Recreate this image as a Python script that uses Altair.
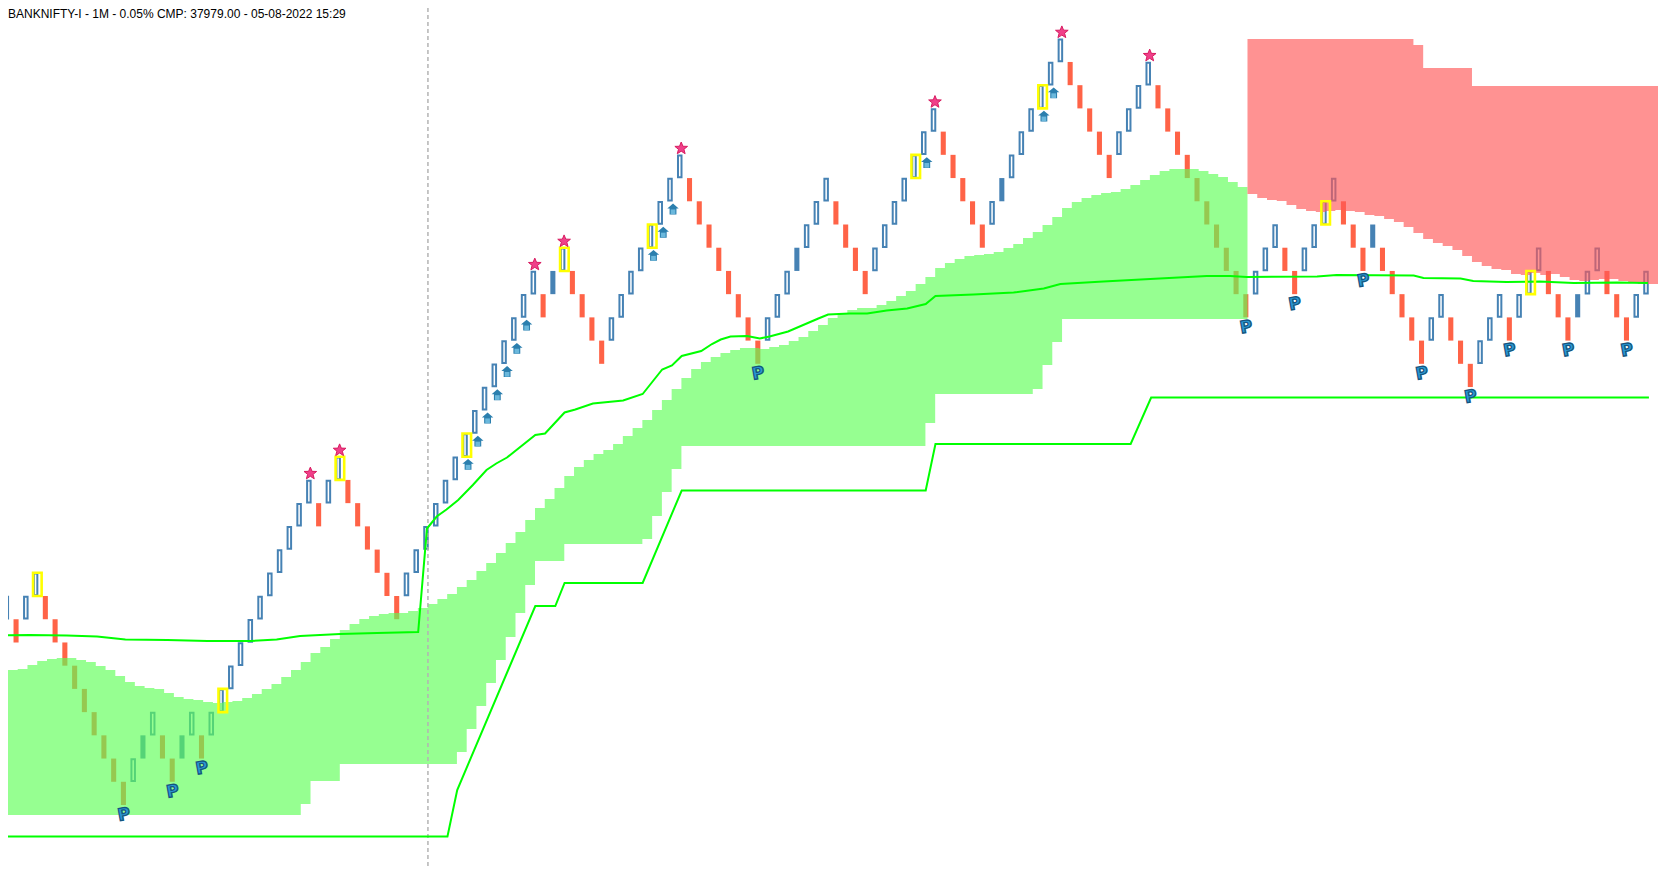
import altair as alt
import pandas as pd

chart_title = "BANKNIFTY-I - 1M - 0.05% CMP: 37979.00 - 05-08-2022 15:29"

# Renko bricks: level of each brick (number of boxes above the lowest brick)
levels = [8,7,8,9,8,7,6,5,4,3,2,1,0,1,2,3,2,1,2,3,2,3,4,5,6,7,8,9,10,11,12,13,12,13,14,13,12,11,10,9,8,9,10,11,12,13,14,15,16,17,18,19,20,21,22,21,22,23,22,21,20,19,20,21,22,23,24,25,26,27,26,25,24,23,22,21,20,19,20,21,22,23,24,25,26,25,24,23,22,23,24,25,26,27,28,29,28,27,26,25,24,25,26,27,28,29,30,31,32,31,30,29,28,27,28,29,30,31,30,29,28,27,26,25,24,23,22,21,22,23,24,23,22,23,24,25,26,25,24,23,24,23,22,21,20,19,20,21,20,19,18,19,20,21,20,21,22,23,22,21,20,21,22,23,22,21,20,21,22]
lowest_price = 36911
box_size = 46.44
solid_up = [14,18,56,81,102,140,161]
yellow_bars = [3,22,34,47,57,66,93,106,135,156]
p_bars = [12,17,20,77,127,132,139,145,150,154,160,166]
star_bars = [31,34,54,57,69,95,108,117]
arrow_bars = [47,48,49,50,51,52,53,66,67,68,94,106,107]

green_top = [37181,37183,37191,37199,37203,37205,37205,37201,37197,37189,37181,37169,37157,37149,37145,37143,37135,37127,37123,37121,37117,37115,37117,37119,37125,37133,37143,37153,37167,37181,37197,37215,37227,37243,37261,37273,37283,37289,37293,37295,37295,37299,37305,37313,37323,37333,37347,37361,37379,37395,37415,37435,37457,37481,37505,37523,37545,37569,37587,37601,37613,37621,37633,37649,37665,37681,37701,37721,37743,37765,37783,37797,37807,37815,37821,37825,37825,37823,37827,37831,37839,37847,37859,37871,37885,37893,37901,37905,37905,37911,37919,37929,37939,37953,37967,37985,37995,38003,38009,38011,38013,38017,38025,38033,38045,38057,38071,38087,38105,38117,38125,38131,38135,38137,38143,38151,38161,38171,38179,38183,38183,38183,38179,38173,38167,38157,38147]
green_bottom = [36891]*30 + [36913] + [36959]*3 + [36993]*12 + [37017,37063,37109,37155,37201,37247,37295,37351] + [37399]*3 + [37433]*8 + [37443,37489,37537,37583] + [37629]*25 + [37675] + [37733]*10 + [37743,37791,37837] + [37883]*19
red_bottom = [38133,38125,38121,38119,38111,38103,38099,38097,38099,38101,38099,38097,38091,38089,38083,38077,38067,38055,38043,38035,38029,38021,38009,37997,37989,37983,37981,37973,37971,37975,37971,37973,37967,37961,37959,37961,37963,37963,37959,37957,37953,37953]
red_top = [38443]*17 + [38431] + [38385]*5 + [38349]*19

avg_x = [-1,2.4,6.2,9.3,12.2,16.5,20.6,25,27.7,30.1,34.2,38,42.2,43.1,44.1,45.1,46.3,47.8,49.2,50.2,51.3,54.2,55.2,57.2,58.3,60.1,63.2,65.2,67.2,68.2,69.2,71.2,72.3,73.2,74.2,75.9,77.2,78.2,80.1,83.2,84.2,86.4,88.2,90.2,92.3,94.2,95.2,99.1,103.2,106.3,108,112.4,117.2,123,125.4,127.1,134.3,136.3,144.2,145.2,149,150.3,153.7,157.1,160.6,165,168.2]
avg_price = [37250,37251,37250,37248,37242,37241,37239,37239,37242,37249,37253,37255,37257,37464,37488,37502,37521,37551,37581,37594,37606,37651,37654,37696,37702,37714,37720,37733,37782,37790,37809,37819,37833,37842,37848,37849,37844,37848,37858,37884,37892,37894,37894,37900,37904,37913,37929,37932,37936,37944,37953,37958,37963,37969,37969,37967,37968,37971,37970,37965,37964,37959,37957,37958,37955,37956,37955]
stop_x = [-1,45.2,46.2,54.2,56.25,57.2,65.2,69.2,94.2,95.2,115.2,117.3,168.3]
stop_price = [36848,36848,36941,37309,37309,37355,37355,37540,37540,37633,37633,37726,37726]
divider_bar = [43.2]

BLUE, RED = "#4682b4", "#ff6347"
xs = alt.Scale(domain=[0.174, 169.23], nice=False, zero=False)
ys = alt.Scale(domain=[36783, 38505], nice=False, zero=False)
X = lambda f: alt.X(f, type="quantitative", scale=xs, axis=None)
Y = lambda f: alt.Y(f, type="quantitative", scale=ys, axis=None)
PX = 2.0  # price per pixel on this chart

rows = []
for i, n in enumerate(levels):
    up = i == 0 or n > levels[i - 1]
    rows.append(dict(i=i, low=lowest_price + box_size * n, high=lowest_price + box_size * (n + 1), up=up, solid=(not up) or (i in solid_up), color=BLUE if up else RED))
bars = pd.DataFrame(rows)
solid = bars[bars.solid].assign(a=lambda d: d.i - 0.26, b=lambda d: d.i + 0.26)
hollow = bars[~bars.solid].assign(a=lambda d: d.i - 0.18, b=lambda d: d.i + 0.18, low=lambda d: d.low + 1.5, high=lambda d: d.high - 1.5)

def steps(first, top, bottom):
    n = len(top)
    return pd.DataFrame({"x": [first + j + 0.17 for j in range(n + 1)], "top": top + [top[-1]], "bottom": bottom + [bottom[-1]]})

green = steps(0, green_top, green_bottom)
red = steps(127, red_top, red_bottom)
# the last red step runs to the window's edge
red.loc[len(red) - 1, "x"] = 169.23

solid_l = alt.Chart(solid).mark_rect(strokeWidth=0).encode(X("a"), x2="b", y=Y("low"), y2="high", color=alt.Color("color:N", scale=None))
hollow_l = alt.Chart(hollow).mark_rect(fill="white", stroke=BLUE, strokeWidth=2).encode(X("a"), x2="b", y=Y("low"), y2="high")
green_l = alt.Chart(green).mark_area(interpolate="step-after", color="#5dff56", opacity=0.65).encode(X("x"), y=Y("top"), y2="bottom")
red_l = alt.Chart(red).mark_area(interpolate="step-after", color="#ff5858", opacity=0.65).encode(X("x"), y=Y("top"), y2="bottom")
avg_l = alt.Chart(pd.DataFrame({"x": avg_x, "p": avg_price})).mark_line(color="#00ff00", strokeWidth=2).encode(X("x"), Y("p"))
stop_l = alt.Chart(pd.DataFrame({"x": stop_x, "p": stop_price})).mark_line(color="#00ff00", strokeWidth=2).encode(X("x"), Y("p"))
rule_l = alt.Chart(pd.DataFrame({"x": divider_bar})).mark_rule(color="#b4b4b4", strokeWidth=1.5, strokeDash=[4, 3]).encode(X("x"))

yb = bars[bars.i.isin(yellow_bars)].assign(a=lambda d: d.i - 0.26, b=lambda d: d.i + 0.62)
yellow_l = alt.Chart(yb).mark_rect(fillOpacity=0, stroke="#ffff00", strokeWidth=2.6).encode(X("a"), x2="b", y=Y("low"), y2="high")

STAR = "M0,-1L0.27,-0.33L1,-0.31L0.43,0.15L0.62,0.85L0,0.45L-0.62,0.85L-0.43,0.15L-1,-0.31L-0.27,-0.33Z"
HOUSE = "M0,-1L1,-0.15L0.6,-0.15L0.6,0.9L-0.6,0.9L-0.6,-0.15L-1,-0.15Z"
stars = bars[bars.i.isin(star_bars)].assign(x=lambda d: d.i + 0.15, p=lambda d: d.high + 6.5 * PX)
star_l = alt.Chart(stars).mark_point(shape=STAR, filled=True, fill="#f0408a", stroke="#d81b60", strokeWidth=1, size=160, opacity=1).encode(X("x"), Y("p"))
arrows = bars[bars.i.isin(arrow_bars)].assign(x=lambda d: d.i + 0.31, p=lambda d: d.low - 8 * PX)
arrow_l = alt.Chart(arrows).mark_point(shape=HOUSE, filled=True, fill="#2b7fae", size=130, opacity=1).encode(X("x"), Y("p"))
arrow2 = arrows.assign(p=lambda d: d.p - 2.5 * PX)
arrow2_l = alt.Chart(arrow2).mark_point(shape="square", filled=True, fill="#6bb8dc", size=22, opacity=1).encode(X("x"), Y("p"))
ps = bars[bars.i.isin(p_bars)].assign(x=lambda d: d.i + 0.05, p=lambda d: d.low - 10 * PX, t="P")
p_l = alt.Chart(ps).mark_text(text="P", font="DejaVu Sans", fontWeight="bold", fontSize=17, fill="#2a98d4", stroke="#14557f", strokeWidth=1.3, angle=350, baseline="middle", align="center").encode(X("x"), Y("p"))
title_l = alt.Chart(pd.DataFrame({"t": [chart_title]})).mark_text(align="left", baseline="top", font="Liberation Sans", fontSize=12, color="#000000").encode(text="t:N", x=alt.value(0), y=alt.value(1))

assert len(levels) == 169 and len(green_top) == len(green_bottom) == 127 and len(red_top) == len(red_bottom) == 42
chart = alt.layer(solid_l, hollow_l, green_l, red_l, rule_l, avg_l, stop_l, yellow_l, star_l, arrow_l, arrow2_l, p_l, title_l).properties(
    width=1650, height=861, padding=0, autosize=alt.AutoSizeParams(type="none"), background="white"
).configure_view(stroke=None)
chart.save("out.html", embed_options={"renderer": "svg", "actions": False})
